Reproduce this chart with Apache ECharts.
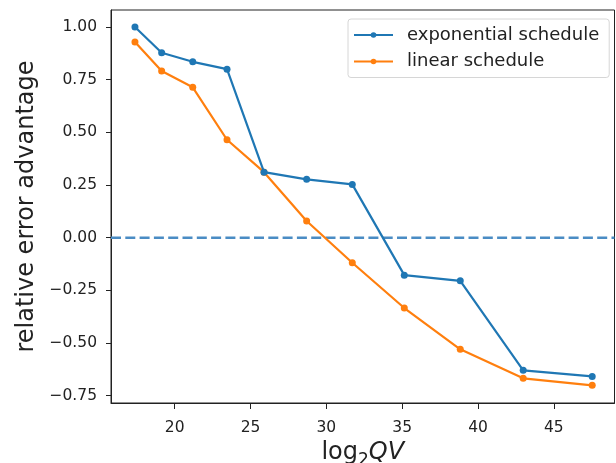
<!DOCTYPE html>
<html>
<head>
<meta charset="utf-8">
<script src="https://cdn.jsdelivr.net/npm/echarts@6/dist/echarts.min.js"></script>
<style>
html,body{margin:0;padding:0;background:#fff;}
#c{width:616px;height:463px;}
</style>
</head>
<body>
<div id="c"></div>
<script>
var xVals = [17.38, 19.14, 21.19, 23.45, 25.89, 28.70, 31.71, 35.14, 38.83, 42.98, 47.53];
var expVals = [1.00, 0.878, 0.835, 0.80, 0.311, 0.277, 0.253, -0.178, -0.205, -0.630, -0.659];
var linVals = [0.929, 0.791, 0.714, 0.465, 0.311, 0.079, -0.119, -0.334, -0.530, -0.668, -0.701];
var zeroLine = 0;
var xTicks = [20, 25, 30, 35, 40, 45];
var yTicks = [-0.75, -0.5, -0.25, 0, 0.25, 0.5, 0.75, 1.0];
var seriesNames = ['exponential schedule', 'linear schedule'];
var X_MIN = 15.8, X_MAX = 49.0;

function pairs(xs, ys) { return xs.map(function (x, i) { return [x, ys[i]]; }); }

var FONT = 'DejaVu Sans';
var chart = echarts.init(document.getElementById('c'), null, {renderer: 'canvas'});
chart.setOption({
  animation: false,
  backgroundColor: '#fff',
  textStyle: {fontFamily: FONT},
  grid: {left: 111, top: 10, right: 1.5, bottom: 60, show: true, borderColor: '#222', borderWidth: 1,
    backgroundColor: 'transparent', containLabel: false, outerBoundsMode: 'none'},
  legend: {
    orient: 'vertical', left: 348, top: 19,
    padding: [7, 10, 7, 5],
    itemWidth: 39, itemHeight: 7, itemGap: 8.5,
    backgroundColor: '#fff', borderColor: '#d6d6d6', borderWidth: 1, borderRadius: 3,
    textStyle: {fontFamily: FONT, fontSize: 18, lineHeight: 18, color: '#222', padding: [0, 0, 0, 9]},
    data: seriesNames
  },
  xAxis: {
    type: 'value', min: X_MIN, max: X_MAX,
    axisLine: {show: true, onZero: false, lineStyle: {color: '#222', width: 1}},
    axisTick: {show: true, length: 6, inside: false, lineStyle: {color: '#222'}, customValues: xTicks},
    axisLabel: {fontFamily: FONT, fontSize: 15.5, color: '#222', margin: 17, customValues: xTicks},
    splitLine: {show: false},
    name: '{n|log}{s|2}{i|QV}',
    nameLocation: 'middle', nameGap: 31,
    nameTextStyle: {
      rich: {
        n: {fontFamily: FONT, fontSize: 24, color: '#222', verticalAlign: 'top', lineHeight: 28},
        s: {fontFamily: FONT, fontSize: 17, color: '#222', verticalAlign: 'bottom', lineHeight: 28},
        i: {fontFamily: FONT, fontSize: 24, color: '#222', fontStyle: 'italic', verticalAlign: 'top', lineHeight: 28}
      }
    }
  },
  yAxis: {
    type: 'value', min: -0.785, max: 1.081,
    axisLine: {show: true, onZero: false, lineStyle: {color: '#222', width: 1}},
    axisTick: {show: true, length: 5, inside: false, lineStyle: {color: '#222'}, customValues: yTicks},
    axisLabel: {fontFamily: FONT, fontSize: 15.5, color: '#222', margin: 14, customValues: yTicks,
      formatter: function (v) { var s = Math.abs(v).toFixed(2); return v < 0 ? '\u2212' + s : s; }},
    splitLine: {show: false},
    name: 'relative error advantage',
    nameLocation: 'middle', nameGap: 72, nameRotate: 90,
    nameTextStyle: {fontFamily: FONT, fontSize: 24, color: '#222'}
  },
  series: [
    {
      name: 'zero', type: 'line', data: [[X_MIN, zeroLine], [X_MAX, zeroLine]],
      symbol: 'none', silent: true, z: 1,
      lineStyle: {type: [10, 4.3], width: 2.5, color: '#4a8cc4'}
    },
    {
      name: seriesNames[0], type: 'line', data: pairs(xVals, expVals),
      symbol: 'circle', symbolSize: 7, color: '#1f77b4',
      lineStyle: {width: 2.2, color: '#1f77b4'}, itemStyle: {color: '#1f77b4'},
      z: 3
    },
    {
      name: seriesNames[1], type: 'line', data: pairs(xVals, linVals),
      symbol: 'circle', symbolSize: 7, color: '#ff7f0e',
      lineStyle: {width: 2.2, color: '#ff7f0e'}, itemStyle: {color: '#ff7f0e'},
      z: 2
    }
  ]
});
</script>
</body>
</html>
